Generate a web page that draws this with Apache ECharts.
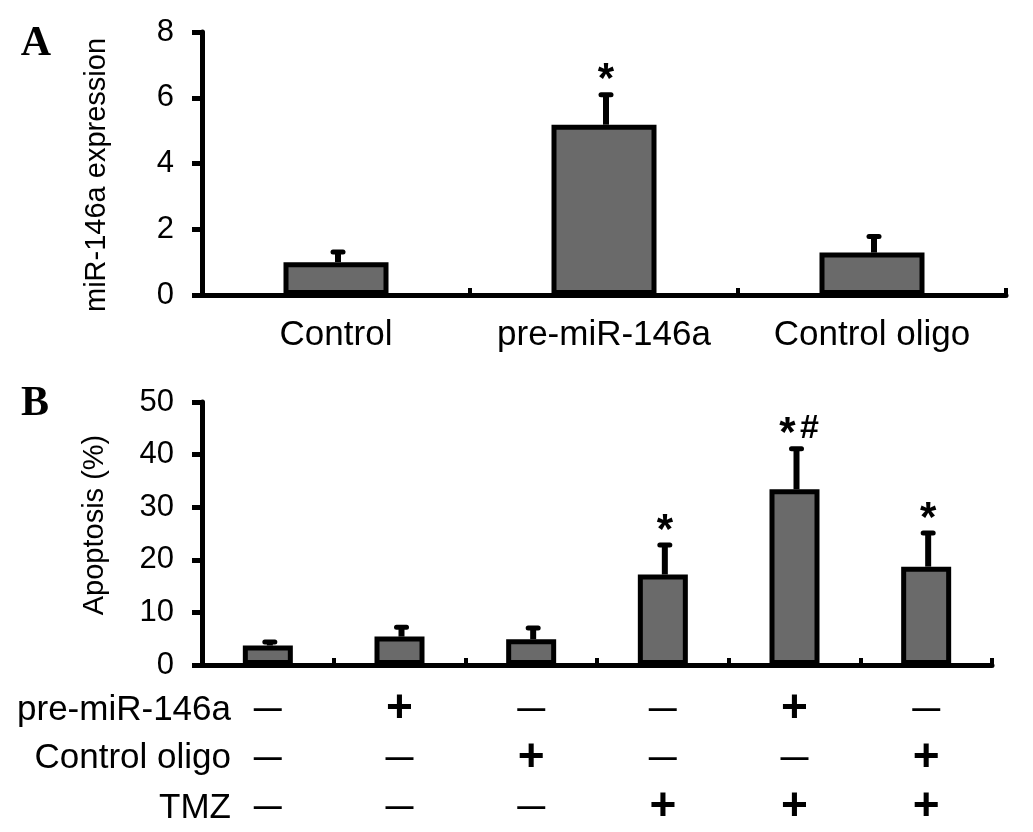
<!DOCTYPE html>
<html><head><meta charset="utf-8">
<script src="https://cdn.jsdelivr.net/npm/echarts@6/dist/echarts.min.js"></script>
<style>html,body{margin:0;padding:0;background:#fff}#c{width:1033px;height:832px}</style>
</head><body><div id="c"></div>
<script>
// ---------- Panel A data ----------
const catsA = ['Control', 'pre-miR-146a', 'Control oligo'];
const meanA = [1.0, 5.18, 1.29];
const errA = [0.31, 0.91, 0.49];
const annA = ['', '*', ''];
const ticksA = [0, 2, 4, 6, 8];
const titleA = 'miR-146a expression';

// ---------- Panel B data ----------
const groupsB = ['G1', 'G2', 'G3', 'G4', 'G5', 'G6'];
const preMiR = [false, true, false, false, true, false];
const ctrlOligo = [false, false, true, false, false, true];
const tmz = [false, false, false, true, true, true];
const rowLabelsB = ['pre-miR-146a', 'Control oligo', 'TMZ'];
const meanB = [3.7, 5.4, 4.9, 17.2, 33.4, 18.7];
const errB = [0.67, 1.77, 2.13, 5.6, 7.7, 6.4];
const annB = ['', '', '', '*', '*#', '*'];
const ticksB = [0, 10, 20, 30, 40, 50];
const titleB = 'Apoptosis (%)';

const FONT = 'Liberation Sans, Arial, sans-serif';
const BLACK = '#000';
const FILL = '#6a6a6a';

function errSeries(xi, means, errs, anns) {
  return {
    type: 'custom', xAxisIndex: xi, yAxisIndex: xi, z: 5,
    data: means.map((m, i) => [i, m, m + errs[i]]),
    renderItem: function (params, api) {
      const i = api.value(0);
      const base = api.coord([i, api.value(1)]);
      const top = api.coord([i, api.value(2)]);
      const cx = top[0] + 2;
      const children = [
        { type: 'line', shape: { x1: cx, y1: base[1], x2: cx, y2: top[1] },
          style: { stroke: BLACK, lineWidth: 6 } },
        { type: 'line', shape: { x1: cx - 5, y1: top[1], x2: cx + 5, y2: top[1] },
          style: { stroke: BLACK, lineWidth: 5, lineCap: 'round' } }
      ];
      const chars = (anns[i] || '').split('');
      const n = chars.length;
      chars.forEach((ch, k) => {
        const dx = n === 1 ? 0 : (k - (n - 1) / 2) * 22 + 2;
        const isStar = ch === '*';
        children.push({
          type: 'text', x: cx + dx, y: top[1] - 22 + (isStar ? 8 : 2),
          style: { text: ch, fontSize: isStar ? 42 : 34, fontWeight: 'bold', fontFamily: FONT, fill: BLACK,
                   align: 'center', verticalAlign: 'middle' }
        });
      });
      return { type: 'group', children: children };
    }
  };
}

function yAxisCfg(idx, ticks) {
  return {
    type: 'value', gridIndex: idx, min: ticks[0], max: ticks[ticks.length - 1],
    interval: ticks[1] - ticks[0],
    axisLine: { show: true, lineStyle: { color: BLACK, width: 5 } },
    axisTick: { show: true, inside: false, length: 10, lineStyle: { color: BLACK, width: 5 } },
    axisLabel: { color: BLACK, fontSize: 31, fontFamily: FONT, margin: 28 },
    splitLine: { show: false }
  };
}

const symbol = v => v ? '{p|+}' : '{m|—}';

const chart = echarts.init(document.getElementById('c'), null, { renderer: 'canvas' });
chart.setOption({
  animation: false,
  backgroundColor: '#fff',
  grid: [
    { left: 202, right: 27, top: 32, height: 263 },
    { left: 202, right: 41, top: 402, height: 263 }
  ],
  xAxis: [
    {
      type: 'category', gridIndex: 0, data: catsA,
      axisLine: { show: true, lineStyle: { color: BLACK, width: 5 } },
      axisTick: { show: true, inside: true, length: 7, lineStyle: { color: BLACK, width: 4 } },
      axisLabel: { color: BLACK, fontSize: 35, fontFamily: FONT, margin: 23, interval: 0 }
    },
    {
      type: 'category', gridIndex: 1, data: groupsB,
      axisLine: { show: true, lineStyle: { color: BLACK, width: 5 } },
      axisTick: { show: true, inside: true, length: 7, lineStyle: { color: BLACK, width: 4 } },
      axisLabel: {
        color: BLACK, fontFamily: FONT, margin: 20, interval: 0, lineHeight: 49,
        formatter: (v, i) => [symbol(preMiR[i]), symbol(ctrlOligo[i]), symbol(tmz[i])].join('\n'),
        rich: {
          p: { fontSize: 46, fontWeight: 'bold', fontFamily: FONT, color: BLACK, lineHeight: 49 },
          m: { fontSize: 28, fontWeight: 'bold', fontFamily: FONT, color: BLACK, lineHeight: 49 }
        }
      }
    }
  ],
  yAxis: [yAxisCfg(0, ticksA), yAxisCfg(1, ticksB)],
  series: [
    { type: 'bar', xAxisIndex: 0, yAxisIndex: 0, data: meanA, barWidth: 105,
      itemStyle: { color: FILL, borderColor: BLACK, borderWidth: 5 } },
    { type: 'bar', xAxisIndex: 1, yAxisIndex: 1, data: meanB, barWidth: 50,
      itemStyle: { color: FILL, borderColor: BLACK, borderWidth: 5 } },
    errSeries(0, meanA, errA, annA),
    errSeries(1, meanB, errB, annB)
  ],
  graphic: [
    { type: 'text', x: 36, y: 44, style: { text: 'A', fontSize: 42, fontWeight: 'bold',
      fontFamily: 'Liberation Serif, Times New Roman, serif', fill: BLACK, align: 'center', verticalAlign: 'middle' } },
    { type: 'text', x: 35, y: 404, style: { text: 'B', fontSize: 42, fontWeight: 'bold',
      fontFamily: 'Liberation Serif, Times New Roman, serif', fill: BLACK, align: 'center', verticalAlign: 'middle' } },
    { type: 'text', x: 97, y: 175, rotation: Math.PI / 2, style: { text: titleA, fontSize: 29,
      fontFamily: FONT, fill: BLACK, align: 'center', verticalAlign: 'middle' } },
    { type: 'text', x: 95, y: 525, rotation: Math.PI / 2, style: { text: titleB, fontSize: 29,
      fontFamily: FONT, fill: BLACK, align: 'center', verticalAlign: 'middle' } }
  ].concat(rowLabelsB.map((t, k) => ({
    type: 'text', x: 231, y: [710, 758, 808][k],
    style: { text: t, fontSize: 35, fontFamily: FONT, fill: BLACK, align: 'right', verticalAlign: 'middle' }
  })))
});
</script>
</body></html>
